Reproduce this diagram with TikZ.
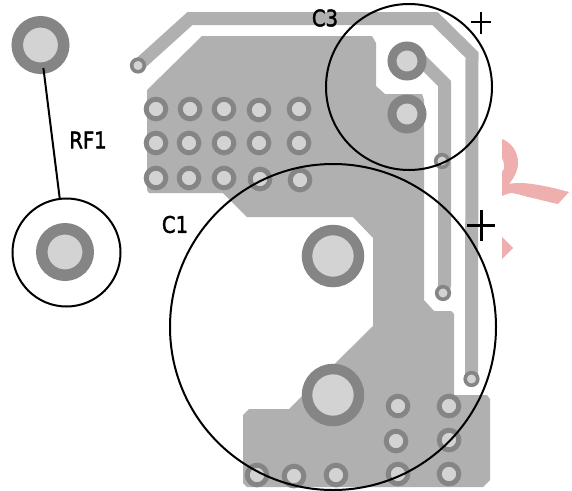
\documentclass[tikz,border=0pt]{standalone}
\usepackage{fontspec}
\setmainfont{DejaVu Sans}
\newfontfamily\lblfont[FakeBold=2]{DejaVu Sans}
\pgfdeclarelayer{copper}
\pgfsetlayers{copper,main}
\definecolor{cu}{HTML}{B0B0B0}
\definecolor{ring}{HTML}{858585}
\definecolor{hole}{HTML}{D3D3D3}
\definecolor{pinkmark}{HTML}{F0AFAF}
\tikzset{
  padbase/.style={circle,draw=ring,fill=hole,inner sep=0pt,outer sep=0pt},
  smallvia/.style={padbase,line width=3.6pt,minimum size=12.6pt},
  thpad/.style={padbase,line width=5pt,minimum size=19.6pt},
  midpad/.style={padbase,line width=9pt,minimum size=30pt},
  rfpad/.style={padbase,line width=11.5pt,minimum size=46.5pt},
  bigpad/.style={padbase,line width=10.5pt,minimum size=52pt},
  trace/.style={draw=cu,line width=13pt,line join=miter},
  outline/.style={circle,draw=black,line width=2pt,inner sep=0pt,outer sep=0pt},
  lbl/.style={font=\lblfont\fontsize{20}{20}\selectfont,inner sep=0pt,text=black,xscale=0.98,yscale=1.14},
  crossline/.style={draw=black,line width=2.2pt},
}
\begin{document}
\begin{tikzpicture}[x=1pt,y=-1pt]
\useasboundingbox (0,0) rectangle (572,490);
% pink marks
\fill[pinkmark] (502,139) .. controls (512,143) and (518,152) .. (518,163)
  .. controls (518,171) and (514,178) .. (509,184)
  .. controls (513,183) and (517,183) .. (522,183)
  .. controls (538,184) and (554,188) .. (569,192) -- (558,204)
  .. controls (548,202) and (538,199) .. (528,197)
  .. controls (522,195) and (517,194) .. (512,193)
  .. controls (508,193) and (505,195) .. (502,196) -- (502,172)
  .. controls (504,170) and (505,167) .. (504,165)
  .. controls (504,162) and (503,160) .. (502,158) -- cycle;
\fill[pinkmark] (502,237) -- (513,248) -- (502,259) -- cycle;
% pads
\foreach \n/\x/\y in {a1/156/109,a2/190/109,a3/224/109,a4/259/110,a5/299/109,
  b1/156/143,b2/189/143,b3/224/143,b4/259/143,b5/299/143,
  c1/156/178,c2/189/178,c3/224/178,c4/260/179,c5/300/180,
  d1/398/406,d2/449/406,d3/396/441,d4/449/440,
  e1/257/475,e2/294/476,e3/336/475,e4/398/474,e5/449/474}
  {\node[thpad] (\n) at (\x,\y) {};}
\node[smallvia] (v1) at (138,65.5) {};
\node[smallvia] (v2) at (442,161) {};
\node[smallvia] (v3) at (443,293) {};
\node[smallvia] (v4) at (471.5,379) {};
\node[midpad] (p1) at (407,61) {};
\node[midpad] (p2) at (407,114) {};
\node[rfpad] (rfa) at (40.5,45) {};
\node[rfpad] (rfb) at (65,252) {};
\node[bigpad] (big1) at (333,256) {};
\node[bigpad] (big2) at (333,395) {};
% copper
\begin{pgfonlayer}{copper}
\fill[cu] (202,36) -- (372,36) -- (376,43) -- (376,86) -- (385,94) -- (422,94)
  -- (424,100) -- (424,300) -- (434,311) -- (451,311) -- (454,314) -- (454,395)
  -- (487,395) -- (490,399) -- (490,480) -- (483,487) -- (247,487) -- (243,483)
  -- (243,415) -- (249,409) -- (289,409) -- (373,326) -- (373,238) -- (353,217)
  -- (247,217) -- (223,193) -- (149,193) -- (147,190) -- (147,90) -- cycle;
\draw[trace] (v1.center) -- (190,18.5) -- (435,18.5) -- (472,55) -- (v4.center);
\draw[trace] (p1.center) -- (422,61) -- (444.5,83.5) -- (444.5,285) -- (v3.center);
\end{pgfonlayer}
% outlines
\node[outline,minimum size=166pt] (c3ring) at (409,87) {};
\node[outline,minimum size=326pt] (c1ring) at (333,327) {};
\node[outline,minimum size=108pt] (rfring) at (66.5,252.5) {};
\draw[black,line width=2pt] (rfa) -- (rfring);
% crosses
\draw[crossline] (471,22) -- (491,22) (481,12) -- (481,34);
\draw[crossline,line width=3pt] (467,225) -- (495,225) (481,210) -- (481,241);
% labels
\node[lbl] (lc3) at (325,18) {C3};
\node[lbl] (lc1) at (175,224.5) {C1};
\node[lbl] (lrf) at (88,140) {RF1};
\end{tikzpicture}
\end{document}
